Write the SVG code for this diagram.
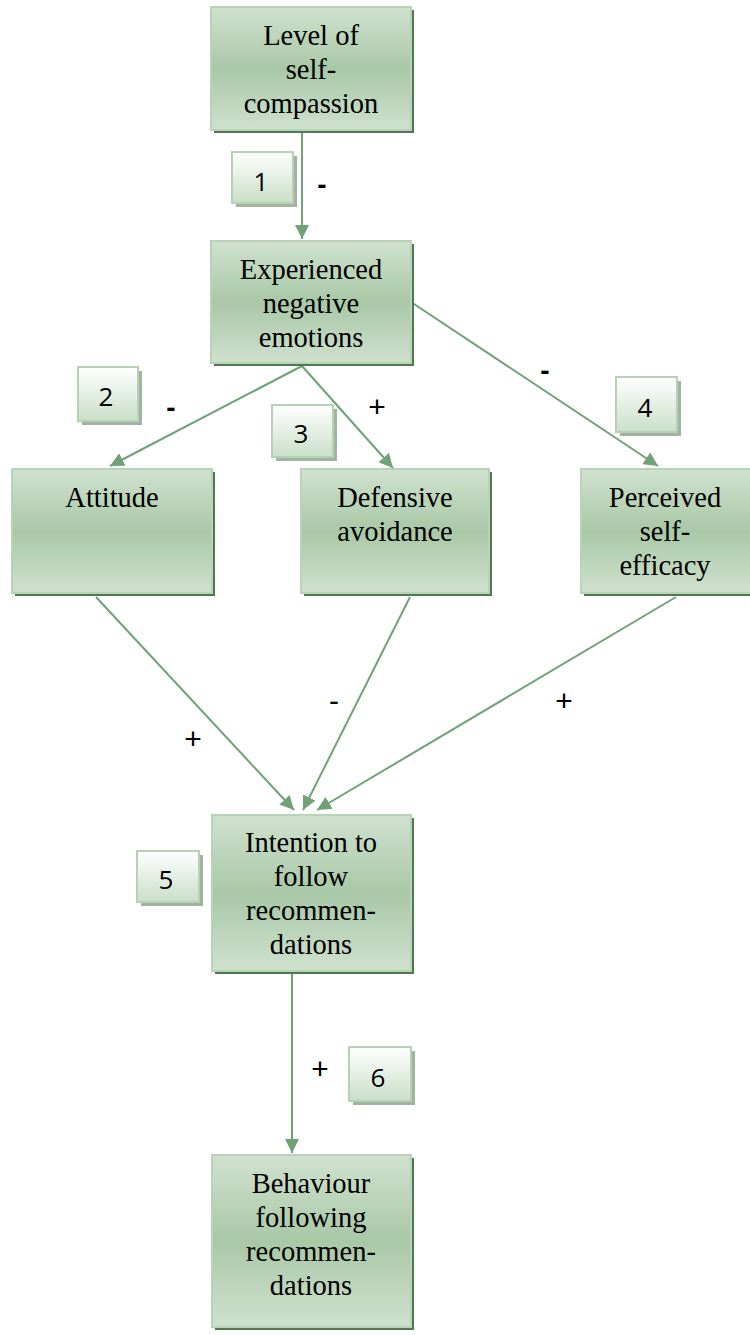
<svg xmlns="http://www.w3.org/2000/svg" width="750" height="1335" viewBox="0 0 750 1335">
<defs>
<linearGradient id="gNode" x1="0" y1="0" x2="0" y2="1">
<stop offset="0" stop-color="#d0e2cf"/>
<stop offset="0.5" stop-color="#a8c8a6"/>
<stop offset="1" stop-color="#cfe1ce"/>
</linearGradient>
<linearGradient id="gNum" x1="0" y1="0" x2="0" y2="1">
<stop offset="0" stop-color="#ffffff"/>
<stop offset="1" stop-color="#c9dfc8"/>
</linearGradient>
<marker id="arr" viewBox="0 0 10 10" refX="10" refY="5" markerWidth="14" markerHeight="14" markerUnits="userSpaceOnUse" orient="auto">
<path d="M0,0 L10,5 L0,10 Z" fill="#6fa276"/>
</marker>
</defs>
<style>
.shadow{fill:#4f7a4f}
.box{fill:url(#gNode);stroke:#b9d3b8;stroke-width:2}
.nshadow{fill:#a3b3a2}
.nbox{fill:url(#gNum);stroke:#b5d2b4;stroke-width:2}
.t{font-family:"Liberation Serif","Times New Roman",serif;font-size:28.5px;fill:#000;text-anchor:middle}
.n{font-family:"Open Sans","Liberation Sans",sans-serif;font-size:26px;fill:#000;text-anchor:middle}
.s{font-family:"Liberation Sans",Arial,sans-serif;font-size:30px;fill:#000;text-anchor:middle}
.sb{font-family:"Liberation Sans",Arial,sans-serif;font-size:28px;font-weight:bold;fill:#000;text-anchor:middle}
.c{stroke:#6fa276;stroke-width:2;fill:none;marker-end:url(#arr)}
</style>

<g id="connectors">
<line class="c" x1="302" y1="131" x2="302" y2="239"/>
<line class="c" x1="302" y1="366" x2="110" y2="466"/>
<line class="c" x1="302" y1="366" x2="393" y2="468"/>
<line class="c" x1="411" y1="302" x2="658" y2="466"/>
<line class="c" x1="96" y1="597" x2="294" y2="810"/>
<line class="c" x1="410" y1="597" x2="303" y2="810"/>
<line class="c" x1="676" y1="597" x2="317" y2="810"/>
<line class="c" x1="292" y1="972" x2="292" y2="1153"/>
</g>

<g id="signs">
<text class="sb" x="322" y="194">-</text>
<text class="sb" x="171" y="417">-</text>
<text class="s" x="377" y="417">+</text>
<text class="sb" x="545" y="380">-</text>
<text class="s" x="193" y="749">+</text>
<text class="s" x="334" y="711">-</text>
<text class="s" x="564" y="711">+</text>
<text class="s" x="320" y="1079">+</text>
</g>

<g id="node-self-compassion">
<rect class="shadow" x="214" y="10" width="200" height="123"/>
<rect class="box" x="211" y="7" width="200" height="123"/>
<text class="t" x="311" y="45">Level of</text>
<text class="t" x="311" y="79">self-</text>
<text class="t" x="311" y="113">compassion</text>
</g>

<g id="node-negative-emotions">
<rect class="shadow" x="214" y="244" width="200" height="122"/>
<rect class="box" x="211" y="241" width="200" height="122"/>
<text class="t" x="311" y="279">Experienced</text>
<text class="t" x="311" y="313">negative</text>
<text class="t" x="311" y="347">emotions</text>
</g>

<g id="node-attitude">
<rect class="shadow" x="15" y="472" width="200" height="124"/>
<rect class="box" x="12" y="469" width="200" height="124"/>
<text class="t" x="112" y="507">Attitude</text>
</g>

<g id="node-defensive-avoidance">
<rect class="shadow" x="304" y="472" width="188" height="124"/>
<rect class="box" x="301" y="469" width="188" height="124"/>
<text class="t" x="395" y="507">Defensive</text>
<text class="t" x="395" y="541">avoidance</text>
</g>

<g id="node-self-efficacy">
<rect class="shadow" x="584" y="472" width="180" height="124"/>
<rect class="box" x="581" y="469" width="180" height="124"/>
<text class="t" x="665" y="507">Perceived</text>
<text class="t" x="665" y="541">self-</text>
<text class="t" x="665" y="575">efficacy</text>
</g>

<g id="node-intention">
<rect class="shadow" x="215" y="818" width="199" height="156"/>
<rect class="box" x="212" y="815" width="199" height="156"/>
<text class="t" x="311" y="852">Intention to</text>
<text class="t" x="311" y="886">follow</text>
<text class="t" x="311" y="920">recommen-</text>
<text class="t" x="311" y="954">dations</text>
</g>

<g id="node-behaviour">
<rect class="shadow" x="215" y="1158" width="199" height="172"/>
<rect class="box" x="212" y="1155" width="199" height="172"/>
<text class="t" x="311" y="1193">Behaviour</text>
<text class="t" x="311" y="1227">following</text>
<text class="t" x="311" y="1261">recommen-</text>
<text class="t" x="311" y="1295">dations</text>
</g>

<g id="num-1">
<rect class="nshadow" x="236" y="156" width="61" height="51"/>
<rect class="nbox" x="232" y="152" width="61" height="51"/>
<text class="n" x="261" y="191">1</text>
</g>
<g id="num-2">
<rect class="nshadow" x="82" y="371" width="60" height="54"/>
<rect class="nbox" x="78" y="367" width="60" height="54"/>
<text class="n" x="106" y="406">2</text>
</g>
<g id="num-3">
<rect class="nshadow" x="276" y="409" width="61" height="52"/>
<rect class="nbox" x="272" y="405" width="61" height="52"/>
<text class="n" x="301" y="443">3</text>
</g>
<g id="num-4">
<rect class="nshadow" x="620" y="381" width="61" height="55"/>
<rect class="nbox" x="616" y="377" width="61" height="55"/>
<text class="n" x="645" y="417">4</text>
</g>
<g id="num-5">
<rect class="nshadow" x="141" y="855" width="62" height="51"/>
<rect class="nbox" x="137" y="851" width="62" height="51"/>
<text class="n" x="166" y="889">5</text>
</g>
<g id="num-6">
<rect class="nshadow" x="353" y="1051" width="62" height="54"/>
<rect class="nbox" x="349" y="1047" width="62" height="54"/>
<text class="n" x="378" y="1087">6</text>
</g>
</svg>
